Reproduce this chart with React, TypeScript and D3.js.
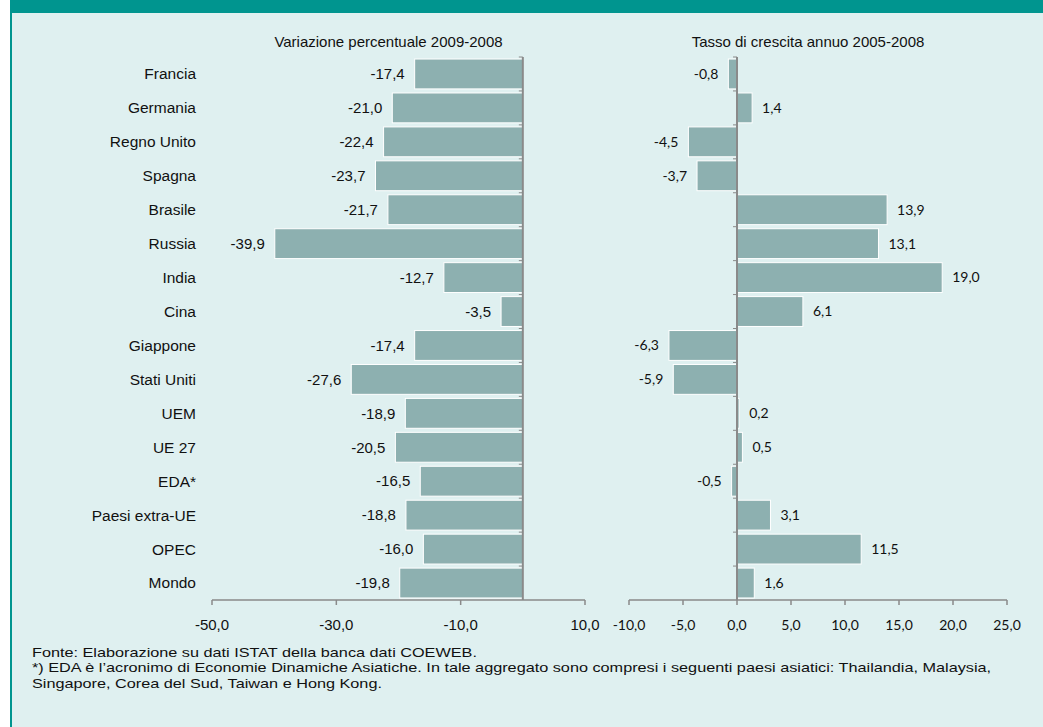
import * as d3 from "d3";

const categories = [
  "Francia", "Germania", "Regno Unito", "Spagna", "Brasile", "Russia", "India", "Cina",
  "Giappone", "Stati Uniti", "UEM", "UE 27", "EDA*", "Paesi extra-UE", "OPEC", "Mondo",
];
const variazione = [-17.4, -21.0, -22.4, -23.7, -21.7, -39.9, -12.7, -3.5, -17.4, -27.6, -18.9, -20.5, -16.5, -18.8, -16.0, -19.8];
const crescita = [-0.8, 1.4, -4.5, -3.7, 13.9, 13.1, 19.0, 6.1, -6.3, -5.9, 0.2, 0.5, -0.5, 3.1, 11.5, 1.6];
const leftTicks = [-50, -30, -10, 10];
const rightTicks = [-10, -5, 0, 5, 10, 15, 20, 25];
const footnotes = [
  "Fonte: Elaborazione su dati ISTAT della banca dati COEWEB.",
  "*) EDA è l’acronimo di Economie Dinamiche Asiatiche. In tale aggregato sono compresi i seguenti paesi asiatici: Thailandia, Malaysia,",
  "Singapore, Corea del Sud, Taiwan e Hong Kong.",
];

const W = 1043;
const H = 727;
const TEAL = "#00958f";
const BG = "#dff0f0";
const BAR = "#8db0b0";
const AXIS = "#8a8a8a";
const ARIAL = "'Liberation Sans', Arial, sans-serif";
const CALIBRI = "Lato, 'Open Sans', sans-serif";

const fmt = d3.formatLocale({ decimal: ",", thousands: ".", grouping: [3], currency: ["", "€"], minus: "-" }).format(".1f");

const y = d3.scaleBand<string>().domain(categories).range([57, 600]).paddingInner(0.12).paddingOuter(0.06);
const band = d3.scaleBand<string>().domain(categories).range([57, 600]);

function Panel({ values, x, ticks, font, fontSize, title }: {
  values: number[]; x: d3.ScaleLinear<number, number>; ticks: number[]; font: string; fontSize: number; title: string;
}) {
  const [x0, x1] = x.range();
  const zero = x(0);
  const axisY = 600;
  return (
    <g>
      <text x={(x0 + x1) / 2 - 10} y={47} textAnchor="middle" fontFamily={ARIAL} fontSize={15} fill="#111">{title}</text>
      {values.map((v, i) => {
        const c = categories[i];
        const xa = Math.min(x(v), zero);
        const w = Math.abs(x(v) - zero);
        const cy = (y(c) as number) + y.bandwidth() / 2;
        return (
          <g key={c}>
            <rect x={xa} y={y(c)} width={w} height={y.bandwidth()} fill={BAR} stroke="#ffffff" strokeWidth={1} />
            <text
              x={v < 0 ? x(v) - 10 : x(v) + 10}
              y={cy}
              dy="0.35em"
              textAnchor={v < 0 ? "end" : "start"}
              fontFamily={font}
              fontSize={fontSize}
              fill="#111"
            >{fmt(v)}</text>
          </g>
        );
      })}
      {categories.map((c, i) => (
        <line key={i} x1={zero - 4} x2={zero} y1={band(c)} y2={band(c)} stroke={AXIS} strokeWidth={1} />
      ))}
      <line x1={zero} x2={zero} y1={57} y2={axisY} stroke={AXIS} strokeWidth={2} />
      <line x1={x0} x2={x1} y1={axisY} y2={axisY} stroke={AXIS} strokeWidth={1.5} />
      {ticks.map((t) => (
        <g key={t}>
          <line x1={x(t)} x2={x(t)} y1={axisY} y2={axisY + 5} stroke={AXIS} strokeWidth={1.5} />
          <text x={x(t)} y={630} textAnchor="middle" fontFamily={font} fontSize={fontSize} fill="#111">{fmt(t)}</text>
        </g>
      ))}
    </g>
  );
}

export default function App() {
  const xLeft = d3.scaleLinear().domain([-50, 10]).range([212, 585]);
  const xRight = d3.scaleLinear().domain([-10, 25]).range([629, 1007]);
  return (
    <svg width={W} height={H} style={{ position: "absolute", left: 0, top: 0 }}>
      <rect x={0} y={0} width={W} height={H} fill="#ffffff" />
      <rect x={10} y={0} width={W - 10} height={H} fill={BG} />
      <rect x={10} y={0} width={W - 10} height={13} fill={TEAL} />
      <rect x={10} y={0} width={2} height={H} fill={TEAL} />
      {categories.map((c) => (
        <text key={c} x={196} y={(band(c) as number) + band.bandwidth() / 2} dy="0.35em" textAnchor="end"
          fontFamily={ARIAL} fontSize={15.5} fill="#111">{c}</text>
      ))}
      <Panel values={variazione} x={xLeft} ticks={leftTicks} font={ARIAL} fontSize={15} title="Variazione percentuale 2009-2008" />
      <Panel values={crescita} x={xRight} ticks={rightTicks} font={CALIBRI} fontSize={14} title="Tasso di crescita annuo  2005-2008" />
      <g transform="translate(32,0) scale(1.25,1)">
        {footnotes.map((f, i) => (
          <text key={i} x={0} y={657 + i * 15.5} fontFamily={ARIAL} fontSize={13} fill="#111">{f}</text>
        ))}
      </g>
    </svg>
  );
}
